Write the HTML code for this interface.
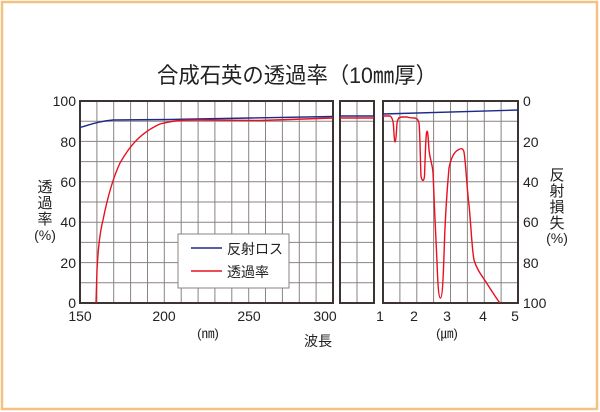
<!DOCTYPE html>
<html><head><meta charset="utf-8"><style>
html,body{margin:0;padding:0;background:#fff;}
svg{display:block;font-family:"Liberation Sans","Noto Sans CJK JP",sans-serif;}
</style></head><body>
<svg width="600" height="412" viewBox="0 0 600 412" xmlns="http://www.w3.org/2000/svg">
<rect x="2" y="2" width="595" height="407" fill="#fff" stroke="#f3c283" stroke-width="2.5"/>
<text x="297" y="83" font-size="22" text-anchor="middle" fill="#222" textLength="280" lengthAdjust="spacingAndGlyphs">合成石英の透過率（10㎜厚）</text>
<g stroke="#8a8382" stroke-width="1">
<g id="h">
<line x1="80" y1="121.2" x2="333" y2="121.2"/><line x1="80" y1="141.4" x2="333" y2="141.4"/><line x1="80" y1="161.6" x2="333" y2="161.6"/><line x1="80" y1="181.8" x2="333" y2="181.8"/><line x1="80" y1="202" x2="333" y2="202"/><line x1="80" y1="222.2" x2="333" y2="222.2"/><line x1="80" y1="242.4" x2="333" y2="242.4"/><line x1="80" y1="262.6" x2="333" y2="262.6"/><line x1="80" y1="282.8" x2="333" y2="282.8"/>
<line x1="340" y1="121.2" x2="374" y2="121.2"/><line x1="340" y1="141.4" x2="374" y2="141.4"/><line x1="340" y1="161.6" x2="374" y2="161.6"/><line x1="340" y1="181.8" x2="374" y2="181.8"/><line x1="340" y1="202" x2="374" y2="202"/><line x1="340" y1="222.2" x2="374" y2="222.2"/><line x1="340" y1="242.4" x2="374" y2="242.4"/><line x1="340" y1="262.6" x2="374" y2="262.6"/><line x1="340" y1="282.8" x2="374" y2="282.8"/>
<line x1="383" y1="121.2" x2="518" y2="121.2"/><line x1="383" y1="141.4" x2="518" y2="141.4"/><line x1="383" y1="161.6" x2="518" y2="161.6"/><line x1="383" y1="181.8" x2="518" y2="181.8"/><line x1="383" y1="202" x2="518" y2="202"/><line x1="383" y1="222.2" x2="518" y2="222.2"/><line x1="383" y1="242.4" x2="518" y2="242.4"/><line x1="383" y1="262.6" x2="518" y2="262.6"/><line x1="383" y1="282.8" x2="518" y2="282.8"/>
</g>
<line x1="96.9" y1="101" x2="96.9" y2="303"/><line x1="113.7" y1="101" x2="113.7" y2="303"/><line x1="130.6" y1="101" x2="130.6" y2="303"/><line x1="147.5" y1="101" x2="147.5" y2="303"/><line x1="164.3" y1="101" x2="164.3" y2="303"/><line x1="181.2" y1="101" x2="181.2" y2="303"/><line x1="198.1" y1="101" x2="198.1" y2="303"/><line x1="214.9" y1="101" x2="214.9" y2="303"/><line x1="231.8" y1="101" x2="231.8" y2="303"/><line x1="248.7" y1="101" x2="248.7" y2="303"/><line x1="265.5" y1="101" x2="265.5" y2="303"/><line x1="282.4" y1="101" x2="282.4" y2="303"/><line x1="299.3" y1="101" x2="299.3" y2="303"/><line x1="316.1" y1="101" x2="316.1" y2="303"/>
<line x1="357" y1="101" x2="357" y2="303"/>
<line x1="399.9" y1="101" x2="399.9" y2="303"/><line x1="416.8" y1="101" x2="416.8" y2="303"/><line x1="433.6" y1="101" x2="433.6" y2="303"/><line x1="450.5" y1="101" x2="450.5" y2="303"/><line x1="467.4" y1="101" x2="467.4" y2="303"/><line x1="484.3" y1="101" x2="484.3" y2="303"/><line x1="501.1" y1="101" x2="501.1" y2="303"/>
</g>
<g fill="none" stroke="#3b3433" stroke-width="2">
<rect x="80" y="101" width="253" height="202"/>
<rect x="340" y="101" width="34" height="202"/>
<rect x="383" y="101" width="135" height="202"/>
</g>
<g fill="none" stroke-width="1.4">
<path stroke="#1c2a8a" d="M80,127.5 C92,124 100,121 113,120 L170,119.5 L250,118 L333,116.5"/>
<path stroke="#1c2a8a" d="M340,116 L374,116"/>
<path stroke="#1c2a8a" d="M383,114 L518,110"/>
<path stroke="#e8101e" d="M96,303 L97,270 C98,250 100,232 103,220 C107,200 112,180 120,163 C130,145 142,132 160,124 C175,120 185,120 200,120 L260,120.5 L333,118"/>
<path stroke="#e8101e" d="M340,118 L374,118"/>
<path stroke="#e8101e" d="M383,116 L390,116 C392,117 393,120 393.5,125 C394,135 394.5,142 395,142 C396,142 396.5,130 397,123 C398,118 399,117 402,117 L407,117 C410,118 412,118 415,118 C417,119 418,119 419,123 C420,130 420.5,170 421,176 C422,182 424,182 424.5,176 C425,165 425.5,140 426.5,133 C427.5,128 428,134 429,150 C430,160 432,162 433,172 C434,200 436,240 437,262 C438,290 439,298 440.5,298 C442,298 443,285 444,255 C445,220 447,190 449,168 C451,158 454,152 458,150 C461,148 463,148 464,152 C466,165 467,190 469,205 C471,225 472,250 474,260 C477,270 482,276 486,282 C491,290 496,298 500,303"/>
</g>
<rect x="178" y="234" width="111" height="54" fill="#fff" stroke="#8a8382" stroke-width="1"/>
<line x1="191" y1="248" x2="222" y2="248" stroke="#1c2a8a" stroke-width="1.4"/>
<line x1="191" y1="271" x2="222" y2="271" stroke="#e8101e" stroke-width="1.4"/>
<g font-size="14" fill="#222">
<text x="227" y="254">反射ロス</text>
<text x="227" y="277">透過率</text>
</g>
<g font-size="14" fill="#222" text-anchor="end">
<text x="76" y="106">100</text><text x="76" y="147">80</text><text x="76" y="187">60</text><text x="76" y="227">40</text><text x="76" y="268">20</text><text x="76" y="308">0</text>
</g>
<g font-size="14" fill="#222" text-anchor="start">
<text x="523" y="106">0</text><text x="523" y="147">20</text><text x="523" y="187">40</text><text x="523" y="227">60</text><text x="523" y="268">80</text><text x="523" y="308">100</text>
</g>
<g font-size="14" fill="#222" text-anchor="middle">
<text x="80" y="321">150</text><text x="164" y="321">200</text><text x="249" y="321">250</text><text x="325" y="321">300</text>
<text x="380" y="321">1</text><text x="414" y="321">2</text><text x="447" y="321">3</text><text x="483" y="321">4</text><text x="515" y="321">5</text>
<text x="208" y="338" font-size="13">(㎚)</text>
<text x="447" y="338" font-size="13">(㎛)</text>
<text x="318" y="346">波長</text>
</g>
<g font-size="15" fill="#222" text-anchor="middle">
<text x="45" y="192">透</text><text x="45" y="208">過</text><text x="45" y="224">率</text><text x="45" y="240" font-size="14">(%)</text>
<text x="557" y="180">反</text><text x="557" y="196">射</text><text x="557" y="212">損</text><text x="557" y="228">失</text><text x="557" y="243" font-size="14">(%)</text>
</g>
</svg>
</body></html>
